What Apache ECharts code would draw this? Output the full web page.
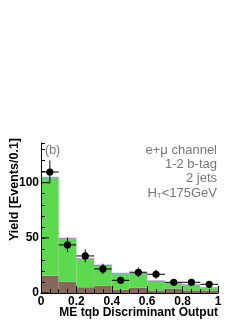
<!DOCTYPE html>
<html><head><meta charset="utf-8">
<script src="https://cdn.jsdelivr.net/npm/echarts@6/dist/echarts.min.js"></script>
<style>html,body{margin:0;padding:0;background:#fff}#c{width:249px;height:323px}</style>
</head><body><div id="c"></div>
<script>
const binEdges = [0,0.1,0.2,0.3,0.4,0.5,0.6,0.7,0.8,0.9,1.0];
const brown   = [15.8,10.3,5.2,6.7,3.0,4.8,2.4,4.0,2.4,2.4];
const green   = [88.2,38.5,25.3,17.8,14.0,12.3,8.0,4.9,4.9,2.3];
const blue    = [0.5,0.5,0.5,0.5,0.5,0.5,0.5,0.3,0.3,0.3];
const magenta = [0.5,0.5,0.5,0.5,0.5,0.5,0.4,0.2,0.2,0.2];
const cyan    = [0.5,0.5,0.5,0.5,0.5,0.4,0.4,0.2,0.2,0.2];
const dataX   = [0.05,0.15,0.25,0.35,0.45,0.55,0.65,0.75,0.85,0.95];
const dataY   = [109.7,43.6,33.6,21.8,11.5,18.8,17.0,9.7,9.7,7.9];
const dataErr = [10.5,6.6,5.8,4.7,3.4,4.3,4.1,3.1,3.1,2.8];
const yTicks  = [0,50,100];

const layers = [
  {name:'brown', vals:brown, color:'#86695b'},
  {name:'green', vals:green, color:'#5cd94e'},
  {name:'blue', vals:blue, color:'#5a63d8'},
  {name:'magenta', vals:magenta, color:'#c0469a'},
  {name:'cyan', vals:cyan, color:'#a6d4f4'}
];
const stackData = [];
for (let i=0;i<brown.length;i++){
  let base=0;
  for (let l=0;l<layers.length;l++){
    const v=layers[l].vals[i];
    stackData.push([binEdges[i],binEdges[i+1],base,base+v,l]);
    base+=v;
  }
}
const pts = dataX.map((x,i)=>[x,dataY[i],dataErr[i],binEdges[i],binEdges[i+1]]);

const chart = echarts.init(document.getElementById('c'),null,{renderer:'canvas'});
const FONT='"Liberation Sans", Arial, sans-serif';
chart.setOption({
  animation:false,
  grid:{left:41,right:31,top:143,bottom:30,containLabel:false,outerBoundsMode:'none'},
  xAxis:[{type:'value',min:0,max:1,interval:0.2,
    axisLine:{lineStyle:{color:'#000',width:1}},
    axisTick:{inside:true,length:7,lineStyle:{color:'#000'}},
    minorTick:{show:true,splitNumber:4,length:4,lineStyle:{color:'#000'}},
    splitLine:{show:false},
    axisLabel:{fontFamily:FONT,fontWeight:'bold',fontSize:12,color:'#000',margin:3,
      formatter:v=>(v===0?'0':v===1?'1':v.toFixed(1))},
    z:10},
   {type:'value',min:0,max:1,position:'top',axisLine:{lineStyle:{color:'#888'}},axisTick:{show:false},axisLabel:{show:false},splitLine:{show:false}}],
  yAxis:[{type:'value',min:0,max:136,interval:10,
    axisLine:{show:true,lineStyle:{color:'#000',width:1}},
    axisTick:{inside:true,length:4,lineStyle:{color:'#000'}},
    splitLine:{show:false},
    axisLabel:{fontFamily:FONT,fontWeight:'bold',fontSize:12,color:'#000',margin:2,
      formatter:v=>(yTicks.indexOf(v)>=0?String(v):'')},
    z:10},
   {type:'value',min:0,max:136,position:'right',axisLine:{show:true,lineStyle:{color:'#888'}},axisTick:{show:false},axisLabel:{show:false},splitLine:{show:false}}],
  series:[
    {type:'custom',data:stackData,z:1,renderItem:(p,api)=>{
      const x0=api.value(0),x1=api.value(1),y0=api.value(2),y1=api.value(3),l=api.value(4);
      const a=api.coord([x0,y1]),b=api.coord([x1,y0]);
      return {type:'rect',shape:{x:a[0],y:a[1],width:b[0]-a[0],height:b[1]-a[1]},style:{fill:layers[l].color}};
    }},
    {type:'custom',data:yTicks.map(v=>[v]),z:5,silent:true,renderItem:(p,api)=>{
      const a=api.coord([0,api.value(0)]);
      return {type:'line',shape:{x1:a[0],y1:a[1],x2:a[0]+8,y2:a[1]},style:{stroke:'#000',lineWidth:1}};
    }},
    {type:'custom',data:pts,z:6,renderItem:(p,api)=>{
      const x=api.value(0),y=api.value(1),e=api.value(2),xl=api.value(3),xr=api.value(4);
      const c=api.coord([x,y]),t=api.coord([x,y+e]),bt=api.coord([x,y-e]),l=api.coord([xl,y]),r=api.coord([xr,y]);
      return {type:'group',children:[
        {type:'line',shape:{x1:t[0],y1:t[1],x2:bt[0],y2:bt[1]},style:{stroke:'#000',lineWidth:1}},
        {type:'line',shape:{x1:l[0],y1:l[1],x2:r[0],y2:r[1]},style:{stroke:'#000',lineWidth:1}},
        {type:'circle',shape:{cx:c[0],cy:c[1],r:3.6},style:{fill:'#000'}}
      ]};
    }}
  ],
  graphic:[
    {type:'text',x:218,y:313,style:{text:'ME tqb Discriminant Output',font:'bold 12px '+FONT,fill:'#000',align:'right',verticalAlign:'middle'}},
    {type:'text',x:15,y:138,rotation:Math.PI/2,style:{text:'Yield [Events/0.1]',font:'bold 12.5px '+FONT,fill:'#000',align:'right',verticalAlign:'middle'}},
    {type:'text',x:45,y:144,style:{text:'(b)',font:'12.5px '+FONT,fill:'#777'}},
    {type:'text',x:217,y:144,style:{text:'e+μ channel',font:'13px '+FONT,fill:'#777',align:'right'}},
    {type:'text',x:217,y:158,style:{text:'1-2 b-tag',font:'13px '+FONT,fill:'#777',align:'right'}},
    {type:'text',x:217,y:172,style:{text:'2 jets',font:'13px '+FONT,fill:'#777',align:'right'}},
    {type:'text',x:217,y:186,style:{text:'{a|H}{s|T}{a|<175GeV}',fill:'#777',align:'right',
      rich:{a:{fontSize:13,fontFamily:FONT,fill:'#777'},s:{fontSize:8,fontFamily:FONT,fill:'#777',padding:[6,0,0,0]}}}}
  ]
});
</script></body></html>
